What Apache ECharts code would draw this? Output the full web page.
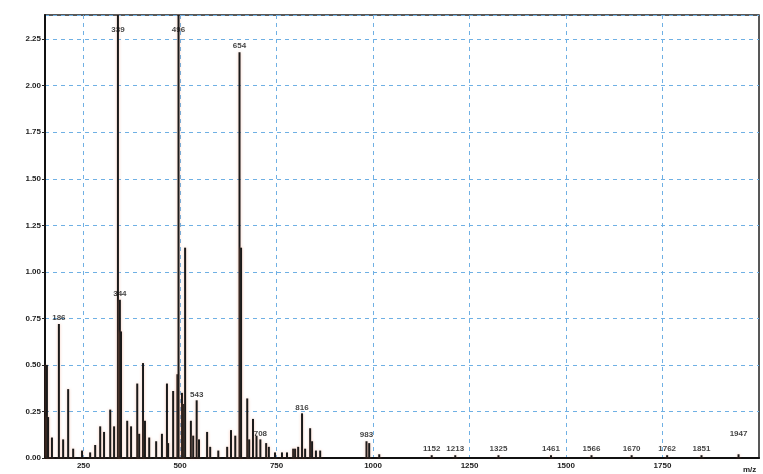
<!DOCTYPE html>
<html>
<head>
<meta charset="utf-8">
<script src="https://cdn.jsdelivr.net/npm/echarts@6/dist/echarts.min.js"></script>
<style>html,body{margin:0;padding:0;background:#fff;}#c{width:763px;height:474px;}</style>
</head>
<body>
<div id="c"></div>
<script>
// m/z positions of peaks
const peakMz = [155,158,168,186,197,210,223,246,267,280,293,303,319,329,339,344,347,363,373,389,394,404,409,420,438,453,466,469,482,493,496,505,508,513,528,534,543,549,570,578,599,622,632,643,654,658,674,679,689,698,708,723,730,746,764,777,793,798,806,816,824,837,842,852,863,983,990,1016,1152,1213,1325,1461,1566,1670,1762,1851,1947];
// relative intensities
const peakVal = [0.50,0.22,0.11,0.72,0.10,0.37,0.05,0.04,0.03,0.07,0.17,0.14,0.26,0.17,2.60,0.85,0.68,0.20,0.17,0.40,0.13,0.51,0.20,0.11,0.09,0.13,0.40,0.08,0.36,0.45,2.60,0.35,0.29,1.13,0.20,0.12,0.31,0.10,0.14,0.06,0.04,0.06,0.15,0.12,2.18,1.13,0.32,0.10,0.21,0.12,0.10,0.08,0.06,0.03,0.03,0.03,0.05,0.05,0.06,0.24,0.05,0.16,0.09,0.04,0.04,0.09,0.08,0.02,0.015,0.015,0.015,0.015,0.015,0.015,0.015,0.015,0.02];
// peak annotations
const labelMz  = [186,339,344,496,543,654,708,816,983,1152,1213,1325,1461,1566,1670,1762,1851,1947];
const labelVal = [0.72,2.27,0.85,2.27,0.31,2.18,0.10,0.24,0.09,0.015,0.015,0.015,0.015,0.015,0.015,0.015,0.015,0.10];
const labelText = ['186','339','344','496','543','654','708','816','983','1152','1213','1325','1461','1566','1670','1762','1851','1947'];
// axis ticks
const xTicks = [250,500,750,1000,1250,1500,1750];
const yMin = 0, yMax = 2.38, yStep = 0.25;

const chart = echarts.init(document.getElementById('c'), null, {renderer:'canvas'});
const font = 'Liberation Sans';
const gridLine = {show:true,lineStyle:{color:'#6fb0e4',type:[4,4],width:1}};
chart.setOption({
  animation:false,
  backgroundColor:'#fff',
  grid:{left:45,right:4,top:15,bottom:12,show:true,borderColor:'#222',borderWidth:1.5},
  xAxis:{
    type:'value', min:150, max:2000,
    name:'m/z', nameLocation:'end', nameGap:-16,
    nameTextStyle:{fontSize:8,fontWeight:'bold',color:'#222',fontFamily:font,verticalAlign:'top',padding:[8,0,0,0]},
    axisLine:{lineStyle:{color:'#111',width:2}},
    axisTick:{show:false,customValues:xTicks},
    axisLabel:{customValues:xTicks,formatter:v=>String(v),fontSize:8,fontWeight:'bold',color:'#222',fontFamily:font,margin:4},
    splitLine:gridLine
  },
  yAxis:{
    type:'value', min:yMin, max:yMax, interval:yStep,
    axisLine:{show:true,lineStyle:{color:'#111',width:2}},
    axisTick:{show:true,length:3,lineStyle:{color:'#222'}},
    axisLabel:{formatter:v=>v.toFixed(2),fontSize:8,fontWeight:'bold',color:'#222',fontFamily:font,margin:4,showMaxLabel:false},
    splitLine:gridLine
  },
  series:[
    {
      type:'bar',
      barWidth:2,
      clip:true,
      itemStyle:{color:'#1a1a1a',shadowColor:'rgba(240,130,90,0.45)',shadowBlur:3},
      data:peakMz.map((m,i)=>[m,peakVal[i]])
    },
    {
      type:'scatter',
      symbolSize:0,
      silent:true,
      label:{show:true,position:'top',distance:2,formatter:p=>labelText[p.dataIndex],
        fontSize:8,fontWeight:'bold',color:'#111',fontFamily:font},
      data:labelMz.map((m,i)=>[m,labelVal[i]])
    }
  ]
});
</script>
</body>
</html>
